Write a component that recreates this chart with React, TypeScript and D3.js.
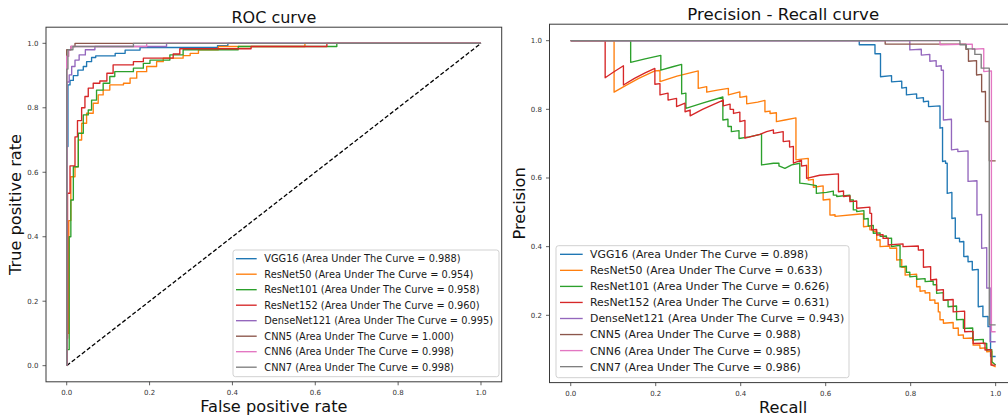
import React from 'react';
import * as d3 from 'd3';

type Pt = [number, number];

// model names and the AUC values printed in the legends
const models = ['VGG16', 'ResNet50', 'ResNet101', 'ResNet152', 'DenseNet121', 'CNN5', 'CNN6', 'CNN7'];
const rocAuc = ['0.988', '0.954', '0.958', '0.960', '0.995', '1.000', '0.998', '0.998'];
const prAuc = ['0.898', '0.633', '0.626', '0.631', '0.943', '0.988', '0.985', '0.986'];

const unitTicks = [0, 0.2, 0.4, 0.6, 0.8, 1.0];
const prYTicks = [0.2, 0.4, 0.6, 0.8, 1.0];

// ROC curves, [false positive rate, true positive rate]
const rocVGG16: Pt[] = [[0, 0], [0, 0.68], [0.003, 0.68], [0.003, 0.871], [0.008, 0.871], [0.008, 0.885], [0.016, 0.885], [0.016, 0.9], [0.027, 0.9], [0.027, 0.917], [0.04, 0.917], [0.04, 0.928], [0.048, 0.928], [0.048, 0.943], [0.06, 0.943], [0.06, 0.956], [0.07, 0.956], [0.07, 0.961], [0.117, 0.961], [0.117, 0.969], [0.141, 0.969], [0.141, 0.979], [0.177, 0.979], [0.177, 0.987], [0.364, 0.987], [0.364, 0.993], [0.389, 0.993], [0.389, 1], [1, 1]];
const rocResNet50: Pt[] = [[0, 0], [0, 0.1], [0.005, 0.1], [0.005, 0.45], [0.01, 0.45], [0.01, 0.586], [0.02, 0.586], [0.02, 0.617], [0.028, 0.617], [0.028, 0.7], [0.036, 0.7], [0.036, 0.752], [0.048, 0.752], [0.048, 0.783], [0.064, 0.783], [0.064, 0.814], [0.076, 0.814], [0.076, 0.84], [0.088, 0.84], [0.088, 0.855], [0.104, 0.855], [0.104, 0.871], [0.137, 0.871], [0.137, 0.876], [0.153, 0.876], [0.153, 0.892], [0.169, 0.892], [0.169, 0.912], [0.193, 0.912], [0.193, 0.928], [0.217, 0.928], [0.217, 0.943], [0.233, 0.943], [0.233, 0.954], [0.281, 0.954], [0.281, 0.962], [0.298, 0.962], [0.298, 0.969], [0.318, 0.969], [0.318, 0.98], [0.366, 0.98], [0.366, 0.99], [0.575, 0.99], [0.575, 1], [1, 1]];
const rocResNet101: Pt[] = [[0, 0], [0, 0.05], [0.006, 0.05], [0.006, 0.4], [0.01, 0.4], [0.01, 0.514], [0.016, 0.514], [0.016, 0.617], [0.028, 0.617], [0.028, 0.721], [0.04, 0.721], [0.04, 0.778], [0.052, 0.778], [0.052, 0.793], [0.06, 0.793], [0.06, 0.824], [0.072, 0.824], [0.072, 0.855], [0.088, 0.855], [0.088, 0.876], [0.104, 0.876], [0.104, 0.897], [0.116, 0.897], [0.116, 0.912], [0.161, 0.912], [0.161, 0.923], [0.185, 0.923], [0.185, 0.938], [0.201, 0.938], [0.201, 0.948], [0.249, 0.948], [0.249, 0.964], [0.281, 0.964], [0.281, 0.98], [0.414, 0.98], [0.414, 0.99], [0.652, 0.99], [0.652, 1], [1, 1]];
const rocResNet152: Pt[] = [[0, 0], [0, 0.085], [0.002, 0.085], [0.002, 0.535], [0.008, 0.535], [0.008, 0.62], [0.02, 0.62], [0.02, 0.71], [0.026, 0.71], [0.026, 0.76], [0.036, 0.76], [0.036, 0.8], [0.044, 0.8], [0.044, 0.835], [0.052, 0.835], [0.052, 0.861], [0.064, 0.861], [0.064, 0.876], [0.08, 0.876], [0.08, 0.883], [0.097, 0.883], [0.097, 0.907], [0.112, 0.907], [0.112, 0.933], [0.161, 0.933], [0.161, 0.943], [0.185, 0.943], [0.185, 0.954], [0.257, 0.954], [0.257, 0.967], [0.273, 0.967], [0.273, 0.983], [0.445, 0.983], [0.445, 0.99], [0.628, 0.99], [0.628, 1], [1, 1]];
const rocDenseNet121: Pt[] = [[0, 0], [0, 0.88], [0.006, 0.88], [0.006, 0.902], [0.012, 0.902], [0.012, 0.928], [0.02, 0.928], [0.02, 0.948], [0.03, 0.948], [0.03, 0.964], [0.045, 0.964], [0.045, 0.98], [0.068, 0.98], [0.068, 0.99], [0.241, 0.99], [0.241, 1], [1, 1]];
const rocCNN5: Pt[] = [[0, 0], [0, 0.98], [0.01, 0.98], [0.01, 0.99], [0.02, 0.99], [0.02, 1], [1, 1]];
const rocCNN6: Pt[] = [[0, 0], [0, 0.96], [0.005, 0.96], [0.005, 0.98], [0.01, 0.98], [0.01, 0.99], [0.193, 0.99], [0.193, 1], [1, 1]];
const rocCNN7: Pt[] = [[0, 0], [0, 0.92], [0.003, 0.92], [0.003, 0.98], [0.015, 0.98], [0.015, 0.99], [0.161, 0.99], [0.161, 1], [1, 1]];

// precision-recall curves, [recall, precision]
const prVGG16: Pt[] = [[0, 1], [0.679, 1], [0.679, 0.988], [0.716, 0.988], [0.716, 0.962], [0.729, 0.962], [0.729, 0.895], [0.755, 0.898], [0.755, 0.88], [0.779, 0.882], [0.779, 0.862], [0.79, 0.864], [0.79, 0.842], [0.814, 0.845], [0.814, 0.832], [0.83, 0.834], [0.83, 0.822], [0.842, 0.824], [0.842, 0.808], [0.869, 0.81], [0.869, 0.745], [0.875, 0.747], [0.875, 0.648], [0.882, 0.65], [0.882, 0.643], [0.886, 0.643], [0.886, 0.555], [0.897, 0.558], [0.897, 0.482], [0.905, 0.484], [0.905, 0.424], [0.915, 0.425], [0.915, 0.414], [0.925, 0.415], [0.925, 0.371], [0.935, 0.372], [0.935, 0.356], [0.945, 0.357], [0.945, 0.332], [0.959, 0.334], [0.959, 0.225], [0.97, 0.227], [0.97, 0.196], [0.982, 0.197], [0.982, 0.167], [0.988, 0.168], [0.988, 0.08], [1, 0.08]];
const prResNet50: Pt[] = [[0, 1], [0.102, 1], [0.102, 0.85], [0.13, 0.87], [0.16, 0.89], [0.198, 0.912], [0.21, 0.913], [0.21, 0.881], [0.25, 0.897], [0.3, 0.912], [0.3, 0.861], [0.32, 0.866], [0.32, 0.85], [0.345, 0.856], [0.371, 0.861], [0.371, 0.842], [0.398, 0.851], [0.398, 0.835], [0.414, 0.838], [0.414, 0.816], [0.44, 0.821], [0.457, 0.826], [0.457, 0.793], [0.469, 0.795], [0.469, 0.788], [0.484, 0.79], [0.484, 0.764], [0.504, 0.769], [0.53, 0.775], [0.53, 0.653], [0.543, 0.655], [0.559, 0.657], [0.559, 0.594], [0.571, 0.596], [0.571, 0.573], [0.594, 0.577], [0.594, 0.536], [0.61, 0.538], [0.61, 0.492], [0.622, 0.493], [0.622, 0.488], [0.681, 0.495], [0.689, 0.495], [0.689, 0.458], [0.704, 0.46], [0.704, 0.449], [0.712, 0.449], [0.712, 0.444], [0.72, 0.445], [0.72, 0.419], [0.728, 0.42], [0.728, 0.4], [0.751, 0.402], [0.751, 0.395], [0.767, 0.396], [0.767, 0.361], [0.779, 0.362], [0.779, 0.34], [0.787, 0.34], [0.787, 0.317], [0.814, 0.32], [0.814, 0.283], [0.822, 0.284], [0.822, 0.27], [0.834, 0.272], [0.834, 0.265], [0.845, 0.266], [0.845, 0.244], [0.857, 0.245], [0.857, 0.235], [0.865, 0.236], [0.865, 0.21], [0.869, 0.21], [0.869, 0.187], [0.877, 0.187], [0.877, 0.177], [0.9, 0.179], [0.9, 0.162], [0.912, 0.163], [0.912, 0.142], [0.924, 0.143], [0.924, 0.133], [0.947, 0.134], [0.947, 0.113], [0.963, 0.114], [0.963, 0.104], [0.979, 0.105], [0.979, 0.094], [0.991, 0.095], [0.991, 0.055], [1, 0.05]];
const prResNet101: Pt[] = [[0, 1], [0.141, 1], [0.141, 0.937], [0.175, 0.947], [0.212, 0.957], [0.212, 0.914], [0.24, 0.924], [0.261, 0.931], [0.261, 0.845], [0.271, 0.847], [0.271, 0.803], [0.31, 0.818], [0.358, 0.836], [0.358, 0.769], [0.37, 0.771], [0.37, 0.75], [0.378, 0.75], [0.378, 0.735], [0.396, 0.738], [0.396, 0.715], [0.42, 0.72], [0.449, 0.728], [0.449, 0.638], [0.477, 0.643], [0.49, 0.643], [0.49, 0.635], [0.504, 0.628], [0.52, 0.638], [0.539, 0.643], [0.539, 0.585], [0.555, 0.583], [0.578, 0.578], [0.578, 0.555], [0.602, 0.558], [0.618, 0.562], [0.618, 0.55], [0.626, 0.55], [0.626, 0.546], [0.657, 0.55], [0.657, 0.536], [0.665, 0.536], [0.665, 0.507], [0.673, 0.507], [0.673, 0.502], [0.69, 0.505], [0.69, 0.48], [0.7, 0.482], [0.7, 0.46], [0.712, 0.462], [0.712, 0.439], [0.728, 0.44], [0.728, 0.43], [0.743, 0.431], [0.743, 0.424], [0.755, 0.425], [0.755, 0.4], [0.775, 0.404], [0.775, 0.341], [0.79, 0.343], [0.79, 0.325], [0.798, 0.326], [0.798, 0.312], [0.814, 0.314], [0.814, 0.305], [0.834, 0.307], [0.834, 0.298], [0.853, 0.3], [0.853, 0.289], [0.861, 0.289], [0.861, 0.264], [0.877, 0.266], [0.877, 0.244], [0.888, 0.245], [0.888, 0.225], [0.908, 0.227], [0.908, 0.187], [0.924, 0.188], [0.924, 0.162], [0.946, 0.163], [0.946, 0.128], [0.971, 0.13], [0.971, 0.118], [0.979, 0.118], [0.979, 0.099], [0.991, 0.1], [0.991, 0.065], [1, 0.055]];
const prResNet152: Pt[] = [[0, 1], [0.081, 1], [0.081, 0.892], [0.1, 0.908], [0.124, 0.927], [0.124, 0.871], [0.15, 0.89], [0.175, 0.906], [0.198, 0.919], [0.198, 0.873], [0.21, 0.875], [0.21, 0.842], [0.229, 0.847], [0.229, 0.827], [0.249, 0.832], [0.249, 0.808], [0.269, 0.818], [0.269, 0.793], [0.281, 0.798], [0.281, 0.781], [0.31, 0.8], [0.335, 0.814], [0.359, 0.827], [0.359, 0.81], [0.375, 0.815], [0.375, 0.8], [0.383, 0.8], [0.383, 0.788], [0.398, 0.792], [0.398, 0.764], [0.41, 0.768], [0.41, 0.716], [0.445, 0.727], [0.461, 0.735], [0.477, 0.74], [0.477, 0.73], [0.5, 0.735], [0.5, 0.706], [0.515, 0.708], [0.515, 0.69], [0.524, 0.692], [0.524, 0.643], [0.543, 0.652], [0.543, 0.635], [0.555, 0.637], [0.555, 0.599], [0.586, 0.608], [0.63, 0.612], [0.63, 0.56], [0.642, 0.562], [0.642, 0.546], [0.657, 0.548], [0.657, 0.531], [0.673, 0.533], [0.673, 0.512], [0.704, 0.515], [0.704, 0.497], [0.708, 0.497], [0.708, 0.449], [0.72, 0.45], [0.72, 0.434], [0.735, 0.435], [0.735, 0.424], [0.747, 0.425], [0.747, 0.405], [0.782, 0.408], [0.782, 0.4], [0.818, 0.402], [0.818, 0.39], [0.83, 0.391], [0.83, 0.34], [0.847, 0.342], [0.847, 0.303], [0.861, 0.305], [0.861, 0.273], [0.877, 0.275], [0.877, 0.244], [0.9, 0.246], [0.9, 0.21], [0.927, 0.212], [0.927, 0.152], [0.947, 0.153], [0.947, 0.118], [0.975, 0.119], [0.975, 0.099], [0.989, 0.1], [0.989, 0.055], [1, 0.055]];
const prDenseNet121: Pt[] = [[0, 1], [0.798, 1], [0.798, 0.973], [0.825, 0.975], [0.825, 0.958], [0.845, 0.96], [0.845, 0.94], [0.86, 0.942], [0.86, 0.925], [0.872, 0.927], [0.872, 0.914], [0.877, 0.914], [0.877, 0.769], [0.896, 0.771], [0.896, 0.682], [0.911, 0.684], [0.911, 0.677], [0.935, 0.679], [0.935, 0.59], [0.956, 0.592], [0.956, 0.492], [0.967, 0.494], [0.967, 0.395], [0.979, 0.397], [0.979, 0.279], [0.987, 0.28], [0.987, 0.123], [1, 0.123]];
const prCNN5: Pt[] = [[0, 1], [0.74, 1], [0.74, 0.99], [0.93, 0.99], [0.93, 0.975], [0.936, 0.975], [0.936, 0.94], [0.955, 0.942], [0.955, 0.9], [0.967, 0.902], [0.967, 0.851], [0.976, 0.852], [0.976, 0.764], [0.985, 0.765], [0.985, 0.65], [1, 0.65]];
const prCNN6: Pt[] = [[0, 1], [0.869, 1], [0.869, 0.988], [0.945, 0.99], [0.945, 0.975], [0.972, 0.977], [0.972, 0.91], [0.99, 0.912], [0.99, 0.152], [1, 0.152]];
const prCNN7: Pt[] = [[0, 1], [0.916, 1], [0.916, 0.988], [0.931, 0.988], [0.931, 0.976], [0.951, 0.976], [0.951, 0.96], [0.966, 0.96], [0.966, 0.92], [0.985, 0.92], [0.985, 0.172], [1, 0.172]];

const rocSeries = [rocVGG16, rocResNet50, rocResNet101, rocResNet152, rocDenseNet121, rocCNN5, rocCNN6, rocCNN7];
const prSeries = [prVGG16, prResNet50, prResNet101, prResNet152, prDenseNet121, prCNN5, prCNN6, prCNN7];

const colors = d3.schemeCategory10;
const FONT = '"DejaVu Sans", sans-serif';
const AXIS = '#3a3a3a';

type LegendBox = { x: number; y: number; w: number; h: number; first: number; step: number; hx0: number; hx1: number; tx: number; fs: number };

type PanelProps = {
  xr: [number, number];
  yr: [number, number];
  yDomain: [number, number];
  yTicks: number[];
  series: Pt[][];
  aucs: string[];
  title: string;
  titleY: number;
  titleSize: number;
  xLabel: string;
  yLabel: string;
  yLabelX: number;
  labelSize: number;
  legend: LegendBox;
  diagonal: boolean;
};

const Panel = (p: PanelProps) => {
  const x = d3.scaleLinear().domain([-0.05, 1.05]).range(p.xr);
  const y = d3.scaleLinear().domain(p.yDomain).range(p.yr);
  const line = d3.line<Pt>().x(d => x(d[0])).y(d => y(d[1]));
  const [left, right] = p.xr;
  const [bottom, top] = p.yr;
  const cx = (left + right) / 2;
  const cy = (bottom + top) / 2;
  const lg = p.legend;

  return (
    <g>
      {p.diagonal && (
        <path d={line([[0, 0], [1, 1]]) || ''} fill="none" stroke="#000" strokeWidth={1.3} strokeDasharray="4.2,2.2" />
      )}
      {p.series.map((s, i) => (
        <path key={i} d={line(s) || ''} fill="none" stroke={colors[i]} strokeWidth={1.35} strokeLinejoin="round" />
      ))}

      {/* frame */}
      <rect x={left} y={top} width={right - left} height={bottom - top} fill="none" stroke={AXIS} strokeWidth={1} />

      {/* x ticks */}
      {unitTicks.map(t => (
        <g key={'x' + t}>
          <line x1={x(t)} x2={x(t)} y1={bottom} y2={bottom + 3.5} stroke={AXIS} strokeWidth={0.8} />
          <text x={x(t)} y={bottom + 13.5} textAnchor="middle" fontSize={7} fill="#333" fontFamily={FONT}>{t.toFixed(1)}</text>
        </g>
      ))}
      {/* y ticks */}
      {p.yTicks.map(t => (
        <g key={'y' + t}>
          <line x1={left - 3.5} x2={left} y1={y(t)} y2={y(t)} stroke={AXIS} strokeWidth={0.8} />
          <text x={left - 7.5} y={y(t) + 2.5} textAnchor="end" fontSize={7} fill="#333" fontFamily={FONT}>{t.toFixed(1)}</text>
        </g>
      ))}

      <text x={cx} y={p.titleY} textAnchor="middle" fontSize={p.titleSize} fill="#111" fontFamily={FONT}>{p.title}</text>
      <text x={cx} y={bottom + 30} textAnchor="middle" fontSize={p.labelSize} fill="#111" fontFamily={FONT}>{p.xLabel}</text>
      <text transform={`translate(${p.yLabelX},${cy}) rotate(-90)`} textAnchor="middle" dominantBaseline="central" fontSize={p.labelSize} fill="#111" fontFamily={FONT}>{p.yLabel}</text>

      {/* legend */}
      <rect x={lg.x} y={lg.y} width={lg.w} height={lg.h} rx={2.5} fill="#fff" fillOpacity={0.8} stroke="#cccccc" strokeWidth={0.9} />
      {models.map((m, i) => {
        const ly = lg.first + i * lg.step;
        return (
          <g key={m}>
            <line x1={lg.hx0} x2={lg.hx1} y1={ly} y2={ly} stroke={colors[i]} strokeWidth={1.35} />
            <text x={lg.tx} y={ly + lg.fs * 0.36} fontSize={lg.fs} fill="#1a1a1a" fontFamily={FONT}>
              {`${m} (Area Under The Curve = ${p.aucs[i]})`}
            </text>
          </g>
        );
      })}
    </g>
  );
};

const App = () => {
  return (
    <svg width={1008} height={417} style={{ position: 'absolute', left: 0, top: 0, background: '#fff' }}>
      <Panel
        xr={[46, 501.7]}
        yr={[381.8, 27.2]}
        yDomain={[-0.05, 1.05]}
        yTicks={unitTicks}
        series={rocSeries}
        aucs={rocAuc}
        title="ROC curve"
        titleY={22.5}
        titleSize={16}
        xLabel="False positive rate"
        yLabel="True positive rate"
        yLabelX={15.5}
        labelSize={16.2}
        legend={{ x: 233, y: 250, w: 266, h: 126.7, first: 258.7, step: 15.5, hx0: 236, hx1: 256.7, tx: 264.3, fs: 9.8 }}
        diagonal={true}
      />
      <Panel
        xr={[549.5, 1016.9]}
        yr={[382.6, 24.2]}
        yDomain={[0.004, 1.048]}
        yTicks={prYTicks}
        series={prSeries}
        aucs={prAuc}
        title="Precision - Recall curve"
        titleY={20}
        titleSize={16.6}
        xLabel="Recall"
        yLabel="Precision"
        yLabelX={519}
        labelSize={16.2}
        legend={{ x: 556, y: 245.7, w: 293, h: 132, first: 254.3, step: 16.05, hx0: 560, hx1: 582.7, tx: 590, fs: 10.9 }}
        diagonal={false}
      />
    </svg>
  );
};

export default App;
